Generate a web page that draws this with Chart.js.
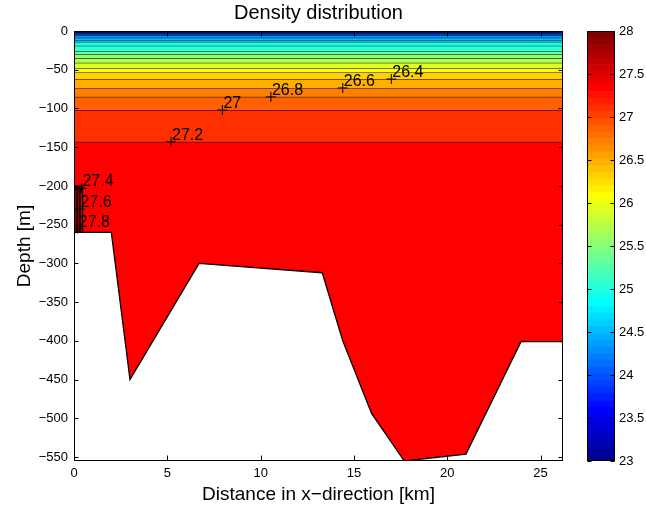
<!DOCTYPE html>
<html>
<head>
<meta charset="utf-8">
<title>Density distribution</title>
<script src="https://cdn.jsdelivr.net/npm/chart.js@4.4.1/dist/chart.umd.min.js"></script>
<style>
  html, body { margin: 0; padding: 0; background: #fff; }
  #wrap { position: relative; width: 646px; height: 508px; }
  #densityChart { position: absolute; left: 0; top: 0; }
  #colorbar { position: absolute; left: 563px; top: 0; }
</style>
</head>
<body>
<div id="wrap">
  <canvas id="densityChart" width="646" height="508"></canvas>
  <canvas id="colorbar" width="83" height="508"></canvas>
</div>
<script>
const FONT = "'Liberation Sans', Arial, Helvetica, sans-serif";

// contour levels (sigma-t) and the depth [m] where each one lies across the section
const levels = [23.2, 23.4, 23.6, 23.8, 24.0, 24.2, 24.4, 24.6, 24.8, 25.0, 25.2, 25.4, 25.6, 25.8, 26.0, 26.2, 26.4, 26.6, 26.8, 27.0, 27.2];
const levelDepths = [-0.3, -0.8, -1.5, -2.5, -3.8, -5.4, -8.7, -11.6, -14, -19, -26, -30, -35, -41, -48, -53.5, -62, -73.5, -85, -102, -143];

// dense water pocket against the left boundary
const pocketLevels = [27.4, 27.6, 27.8];
const pocketEdgeX = [0.46, 0.32, 0.18];
const pocketTop = [-200, -202, -204];
const pocketBottom = -260;

// clabel positions
const labelLevels = [26.4, 26.6, 26.8, 27.0, 27.2, 27.4, 27.6, 27.8];
const labelX = [17.0, 14.4, 10.55, 7.95, 5.2, 0.4, 0.3, 0.2];
const labelDepth = [-62, -73.5, -85, -102, -143, -203, -230, -255];

// bottom topography
const seabedX = [0, 2, 3, 6.7, 13.3, 14.4, 15.95, 17.7, 21, 23.95, 26.2];
const seabedDepth = [-260, -260, -450, -300, -312, -400, -494, -555, -546, -401, -401];

// axes
const xMax = 26.2;
const yMin = -555;
const distTicks = [0, 5, 10, 15, 20, 25];
const depthTicks = [0, -50, -100, -150, -200, -250, -300, -350, -400, -450, -500, -550];
const densityTicks = [23, 23.5, 24, 24.5, 25, 25.5, 26, 26.5, 27, 27.5, 28];
const cmin = 23, cmax = 28, nColors = 64;

// matlab jet(64)
function jetRGB(i) {
  const n = nColors / 4;
  const u = k => (k < 1 || k > 3 * n - 1) ? 0 : k <= n ? k / n : k <= 2 * n - 1 ? 1 : (3 * n - k) / n;
  const g = Math.ceil(n / 2);
  return [u(i - g - n), u(i - g), u(i - g + n)].map(c => Math.round(c * 255));
}
function jetColor(v) {
  let i = Math.floor((v - cmin) / (cmax - cmin) * nColors) + 1;
  i = Math.max(1, Math.min(nColors, i));
  const c = jetRGB(i);
  return 'rgb(' + c.join(',') + ')';
}
const minus = v => String(v).replace('-', '\u2212');

// frame + inward tick marks on every side of the plot box
const boxPlugin = {
  id: 'boxTicks',
  afterDraw(chart) {
    const {ctx, chartArea: a} = chart;
    const L = Math.round(a.left) + 0.5, R = Math.round(a.right) - 0.5;
    const T = Math.round(a.top) + 0.5, B = Math.round(a.bottom) - 0.5;
    ctx.save();
    ctx.strokeStyle = '#000';
    ctx.lineWidth = 1;
    ctx.beginPath();
    Object.values(chart.scales).forEach(s => {
      if (!s.options.display) return;
      s.ticks.forEach(t => {
        const p = Math.round(s.getPixelForValue(t.value)) + 0.5;
        if (s.isHorizontal()) {
          ctx.moveTo(p, B); ctx.lineTo(p, B - 5);
          ctx.moveTo(p, T); ctx.lineTo(p, T + 5);
        } else {
          ctx.moveTo(L, p); ctx.lineTo(L + 4, p);
          ctx.moveTo(R, p); ctx.lineTo(R - 4, p);
        }
      });
    });
    ctx.stroke();
    ctx.strokeRect(L, T, R - L, B - T);
    ctx.restore();
  }
};

// contour label text next to each "+" marker
const labelPlugin = {
  id: 'contourLabels',
  afterDatasetsDraw(chart) {
    const ds = chart.data.datasets.findIndex(d => d.label === 'labels');
    const meta = chart.getDatasetMeta(ds);
    const ctx = chart.ctx;
    ctx.save();
    ctx.fillStyle = '#000';
    ctx.font = '16px ' + FONT;
    ctx.textAlign = 'left';
    ctx.textBaseline = 'alphabetic';
    meta.data.forEach((pt, i) => {
      ctx.fillText(String(labelLevels[i]), pt.x + 1, pt.y - 2);
    });
    ctx.restore();
  }
};

// filled bands between consecutive contours
const boundaries = [0].concat(levelDepths, [yMin]);
const bandDatasets = boundaries.map((d, i) => {
  const isContour = i > 0 && i < boundaries.length - 1;
  const bandValue = i < levels.length ? levels[i] - 0.1 : levels[levels.length - 1] + 0.1;
  return {
    data: [{x: 0, y: d}, {x: xMax, y: d}],
    showLine: true,
    pointRadius: 0,
    borderColor: '#000',
    borderWidth: isContour ? 1 : 0,
    backgroundColor: jetColor(bandValue),
    fill: i < boundaries.length - 1 ? '+1' : false,
    order: 10
  };
});

const pocketDatasets = pocketLevels.map((lv, i) => ({
  data: [
    {x: 0, y: pocketBottom}, {x: 0, y: pocketTop[i]},
    {x: pocketEdgeX[i], y: pocketTop[i]}, {x: pocketEdgeX[i], y: pocketBottom}
  ],
  showLine: true,
  pointRadius: 0,
  borderColor: '#000',
  borderWidth: 1,
  backgroundColor: jetColor(lv + 0.1),
  fill: 'shape',
  order: 7 - i
}));

const seabed = {
  data: seabedX.map((x, i) => ({x: x, y: seabedDepth[i]})),
  showLine: true,
  pointRadius: 0,
  borderColor: '#000',
  borderWidth: 1.3,
  backgroundColor: '#fff',
  fill: 'start',
  order: 2
};

const markers = {
  label: 'labels',
  data: labelX.map((x, i) => ({x: x, y: labelDepth[i]})),
  showLine: false,
  pointStyle: 'cross',
  pointRadius: 5,
  borderColor: '#000',
  borderWidth: 1,
  order: 1
};

new Chart(document.getElementById('densityChart'), {
  type: 'scatter',
  data: {datasets: bandDatasets.concat(pocketDatasets, [seabed, markers])},
  plugins: [boxPlugin, labelPlugin],
  options: {
    responsive: false,
    animation: false,
    events: [],
    layout: {padding: {left: 0, right: 83, top: 0, bottom: 0}},
    plugins: {
      legend: {display: false},
      tooltip: {enabled: false},
      title: {
        display: true,
        text: 'Density distribution',
        fullSize: false,
        color: '#000',
        font: {family: FONT, size: 20, weight: 'normal'},
        padding: {top: 1, bottom: 6}
      }
    },
    scales: {
      x: {
        type: 'linear',
        min: 0,
        max: xMax,
        afterBuildTicks: s => { s.ticks = distTicks.map(v => ({value: v})); },
        afterFit: s => { s.height = 47; },
        grid: {display: false, drawTicks: false},
        border: {display: false},
        ticks: {color: '#000', font: {family: FONT, size: 13}, padding: 5, maxRotation: 0, autoSkip: false},
        title: {
          display: true,
          text: 'Distance in x\u2212direction [km]',
          color: '#000',
          font: {family: FONT, size: 19},
          padding: {top: 0, bottom: 2}
        }
      },
      y: {
        type: 'linear',
        min: yMin,
        max: 0,
        afterBuildTicks: s => { s.ticks = depthTicks.map(v => ({value: v})); },
        afterFit: s => { s.width = 74; },
        grid: {display: false, drawTicks: false},
        border: {display: false},
        ticks: {color: '#000', font: {family: FONT, size: 13}, padding: 6, autoSkip: false, callback: v => minus(v)},
        title: {
          display: true,
          text: 'Depth [m]',
          color: '#000',
          font: {family: FONT, size: 19},
          padding: {top: 13, bottom: 0}
        }
      }
    }
  }
});

// colorbar: one floating bar per colormap entry
const step = (cmax - cmin) / nColors;
const cbarDatasets = [];
for (let i = 0; i < nColors; i++) {
  const lo = cmin + i * step;
  cbarDatasets.push({
    data: [[lo, lo + step]],
    backgroundColor: jetColor(lo + step / 2),
    borderWidth: 0,
    barPercentage: 1,
    categoryPercentage: 1
  });
}

new Chart(document.getElementById('colorbar'), {
  type: 'bar',
  data: {labels: [''], datasets: cbarDatasets},
  plugins: [boxPlugin],
  options: {
    responsive: false,
    animation: false,
    events: [],
    layout: {padding: {left: 24, right: 0, top: 31, bottom: 47}},
    plugins: {legend: {display: false}, tooltip: {enabled: false}},
    scales: {
      x: {display: false, stacked: true},
      y: {
        position: 'right',
        min: cmin,
        max: cmax,
        afterBuildTicks: s => { s.ticks = densityTicks.map(v => ({value: v})); },
        afterFit: s => { s.width = 31; },
        grid: {display: false, drawTicks: false},
        border: {display: false},
        ticks: {color: '#000', font: {family: FONT, size: 13}, padding: 4, autoSkip: false, callback: v => String(v)}
      }
    }
  }
});
</script>
</body>
</html>
